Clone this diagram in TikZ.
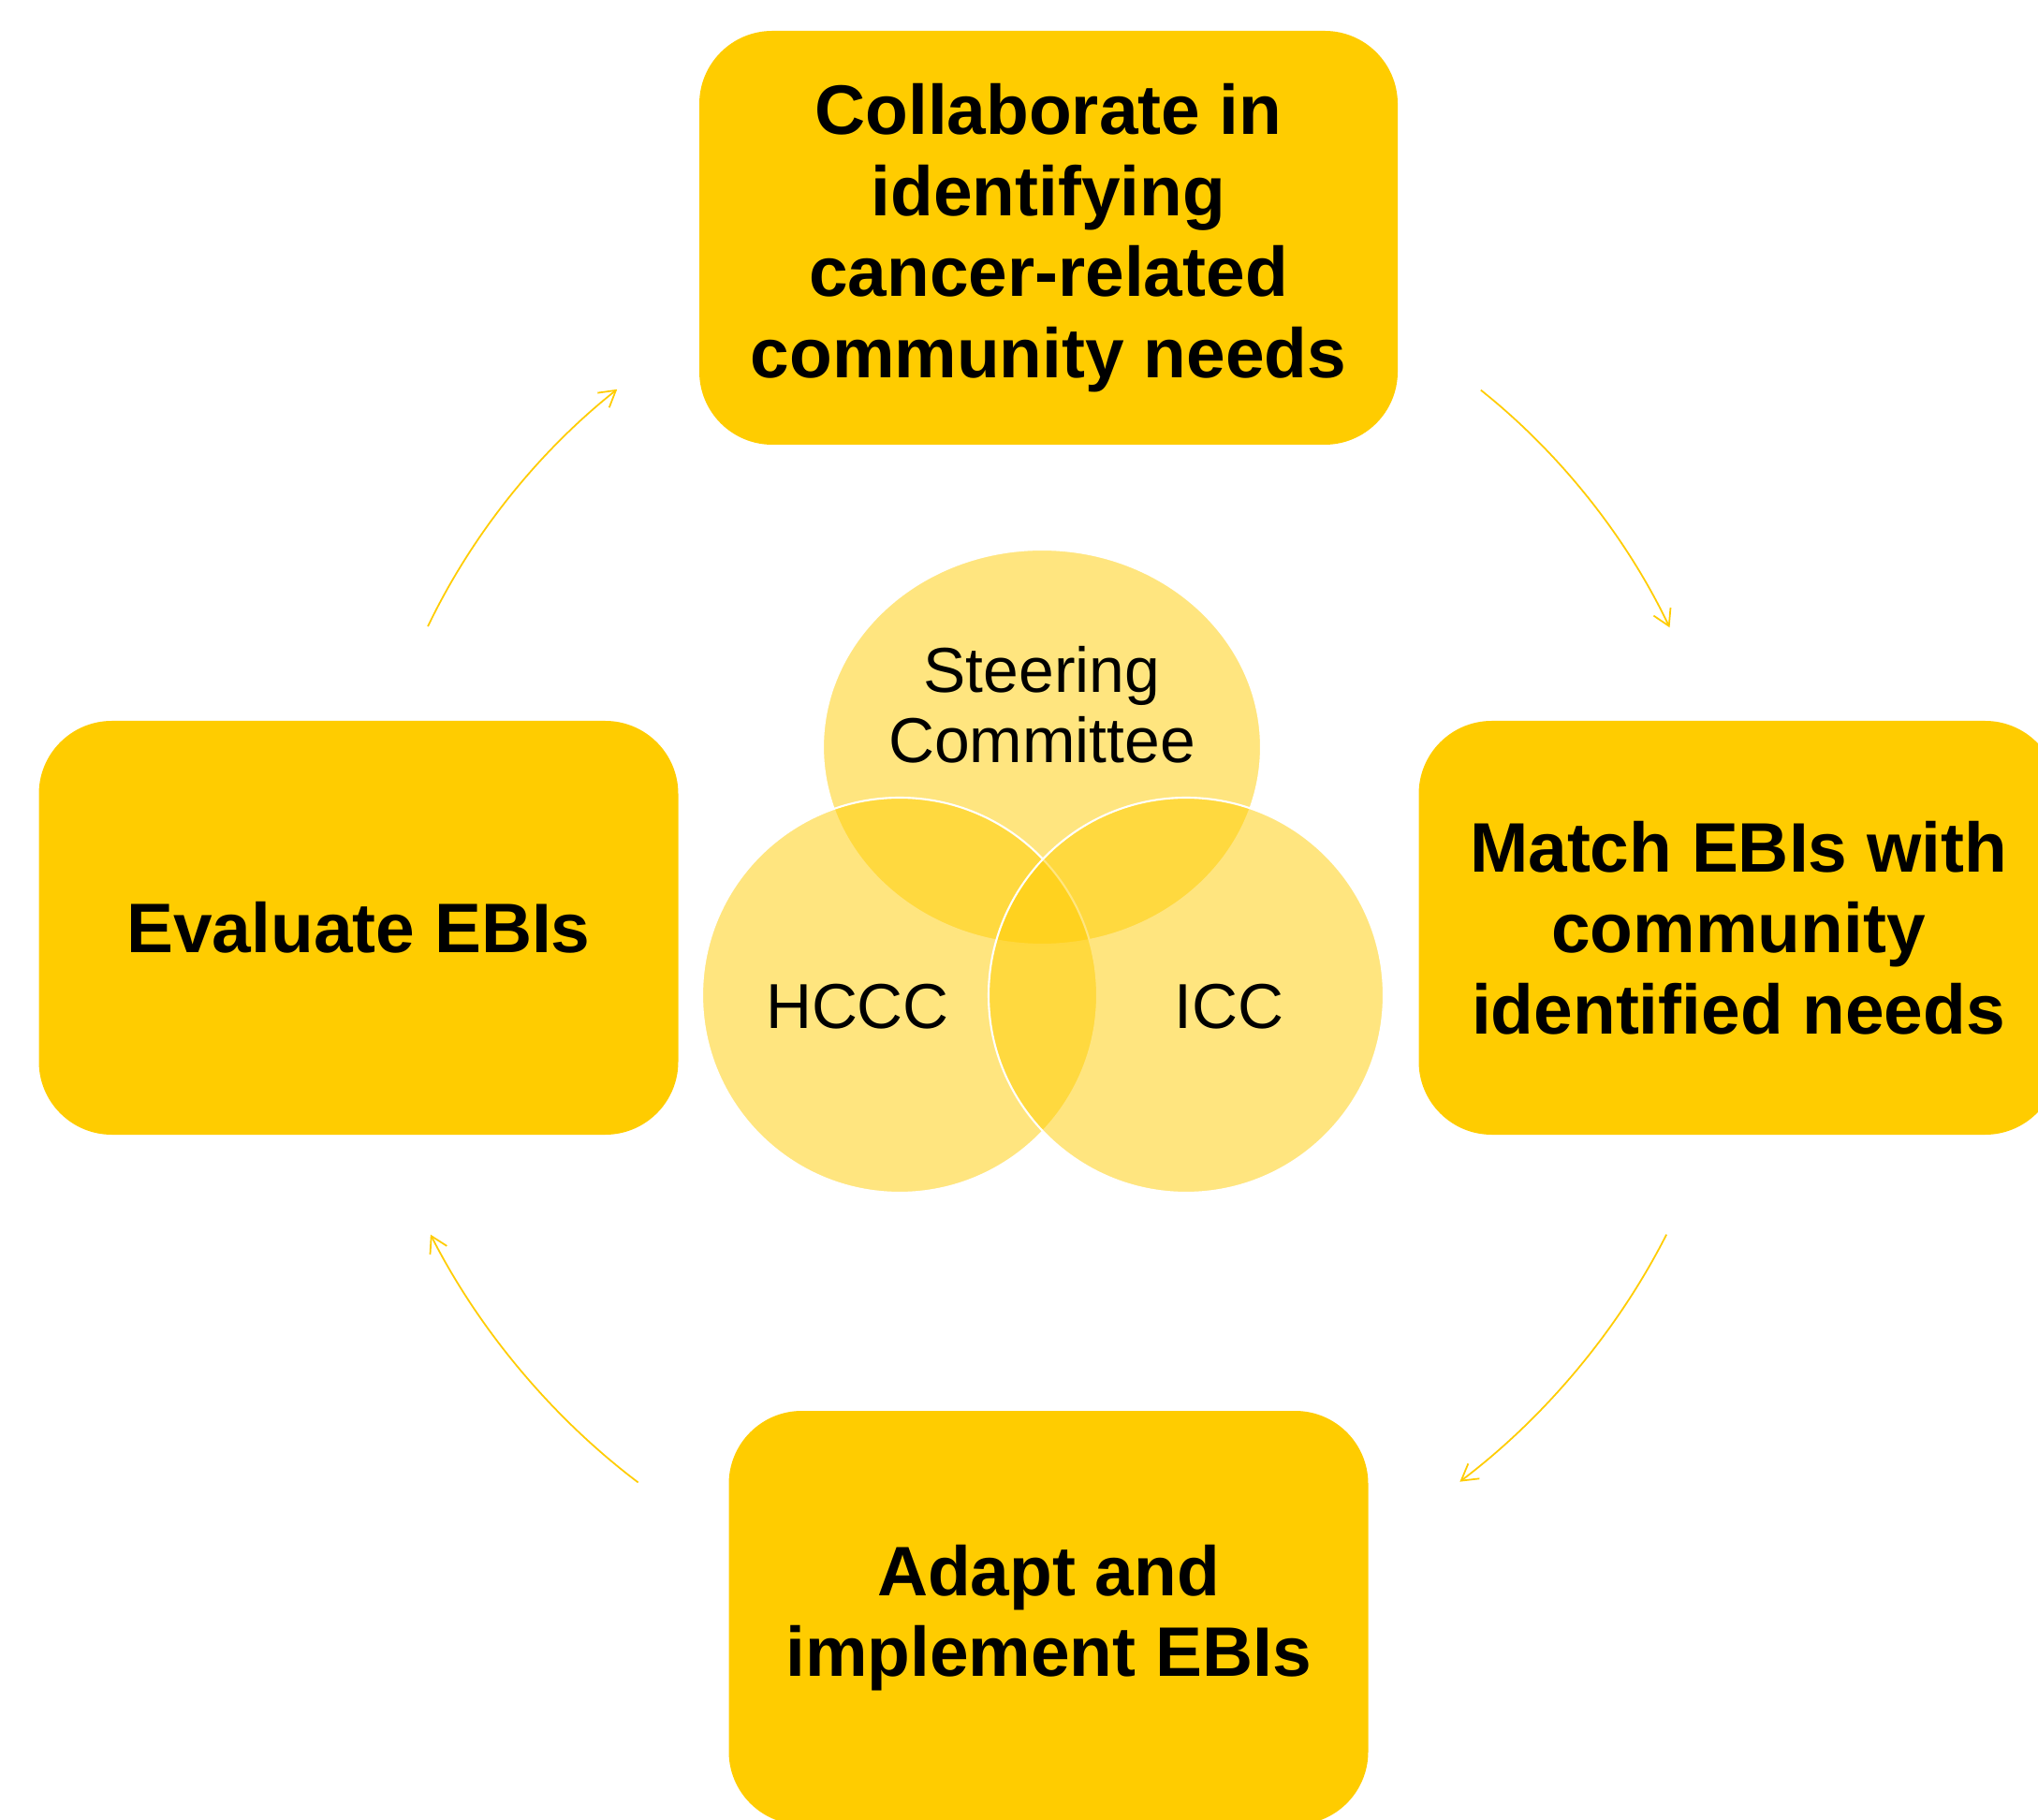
\documentclass[tikz,border=0pt]{standalone}
\usepackage{fontspec}
\setmainfont{Liberation Sans}
\usepackage{tikz}
\usetikzlibrary{shapes.geometric, arrows.meta}
\definecolor{ebiyellow}{RGB}{255,204,0}

\begin{document}
\begin{tikzpicture}[node distance=7.37cm,
	stage node/.style={rectangle, rounded corners=0.78cm, fill=ebiyellow, minimum width=6.83cm, minimum height=4.42cm, inner sep=0pt, align=center, font=\fontsize{21.3}{24.6}\selectfont\bfseries},
	venn node/.style={fill=ebiyellow, fill opacity=0.5, draw=white, line width=0.6pt, inner sep=0pt},
	venn text/.style={align=center, font=\fontsize{19.3}{21.4}\selectfont},
	cycle arrow/.style={ebiyellow, line width=0.5pt, -{Straight Barb[length=0.17cm, width=0.2cm]}, bend left=13, looseness=0.85}]

			\useasboundingbox (0,0) rectangle (21.77,-19.44);
			\coordinate (mid) at (11.20,-9.91);

			% the four stages
			\node[stage node, minimum width=7.46cm] (collab) [above of=mid] {Collaborate in\\ identifying\\ cancer-related\\ community needs};
			\node[stage node] (match) [right of=mid] {Match EBIs with\\ community\\ identified needs};
			\node[stage node] (adapt) [below of=mid] {Adapt and\\ implement EBIs};
			\node[stage node] (evaluate) [left of=mid] {Evaluate EBIs};

			% partners in the middle
			\node[venn node, ellipse, minimum width=4.68cm, minimum height=4.22cm] (steering) at (11.13,-7.98) {};
			\node[venn node, circle, minimum size=4.22cm] (hccc) at (9.61,-10.63) {};
			\node[venn node, circle, minimum size=4.22cm] (icc) at (12.67,-10.63) {};

			\node[venn text] (steeringlabel) at ([yshift=0.45cm]steering.center) {Steering\\ Committee};
			\node[venn text] (hccclabel) at ([xshift=-0.45cm, yshift=-0.12cm]hccc.center) {HCCC};
			\node[venn text] (icclabel) at ([xshift=0.46cm, yshift=-0.12cm]icc.center) {ICC};

			% cycle arrows
			\path (mid) ++(51.2:7.37) coordinate (a1);
			\path (mid) ++(25.8:7.37) coordinate (a2);
			\path (mid) ++(-26.4:7.37) coordinate (b1);
			\path (mid) ++(-53.4:7.37) coordinate (b2);
			\path (mid) ++(-126.5:7.37) coordinate (c1);
			\path (mid) ++(-153.6:7.37) coordinate (c2);
			\path (mid) ++(154.1:7.37) coordinate (d1);
			\path (mid) ++(128.7:7.37) coordinate (d2);

			\draw[cycle arrow] (a1) to (a2);
			\draw[cycle arrow] (b1) to (b2);
			\draw[cycle arrow] (c1) to (c2);
			\draw[cycle arrow] (d1) to (d2);

		\end{tikzpicture}
\end{document}
